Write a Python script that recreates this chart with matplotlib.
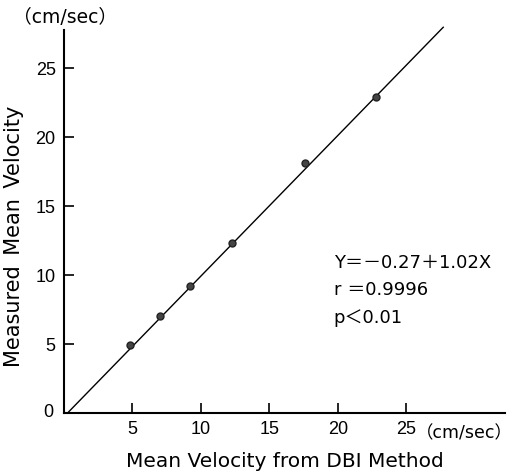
import matplotlib
matplotlib.use("Agg")
from matplotlib import pyplot as plt
import numpy as np

# data
dbi_velocity = [4.8, 7.0, 9.2, 12.3, 17.6, 22.8]        # x, cm/sec
measured_velocity = [4.9, 7.0, 9.2, 12.3, 18.1, 22.9]   # y, cm/sec
fit_intercept = -0.27
fit_slope = 1.02
fit_x_range = [0.26, 27.7]
tick_values = [5, 10, 15, 20, 25]
stats_lines = ["Y＝－0.27＋1.02X", "r ＝0.9996", "p＜0.01"]

plt.rcParams['font.family'] = ['DejaVu Sans', 'Noto Sans CJK JP']

fig = plt.figure(figsize=(5.12, 4.73), dpi=100)
ax = fig.add_axes([0.125, 0.127, 0.861, 0.81])

# regression line
fx = np.array(fit_x_range)
ax.plot(fx, fit_intercept + fit_slope * fx, color='black', linewidth=1.0, clip_on=False)
# measured points
ax.plot(dbi_velocity, measured_velocity, 'o', color='#444444',
        markersize=5, markeredgecolor='#222222')

ax.set_xlim(0, 32.2)
ax.set_ylim(0, 27.8)
ax.set_xticks(tick_values)
ax.set_yticks(tick_values)
ax.tick_params(direction='in', length=7, width=1.2, pad=6)
for lab in ax.get_xticklabels() + ax.get_yticklabels():
    lab.set_family(['Liberation Sans', 'DejaVu Sans'])
    lab.set_fontsize(13)
for side in ['top', 'right']:
    ax.spines[side].set_visible(False)
for side in ['left', 'bottom']:
    ax.spines[side].set_linewidth(1.5)

# the 0 at the origin sits left of the y axis
ax.text(-0.8, 0, "0", ha='right', va='center', fontsize=13,
        family=['Liberation Sans', 'DejaVu Sans'])

ax.set_xlabel("Mean Velocity from DBI Method", fontsize=14.5, labelpad=10)
ax.set_ylabel("Measured\u2002Mean\u2002Velocity", fontsize=15)
ax.yaxis.set_label_coords(-0.09, 0.46)

# units
ax.text(25.7, -1.45, "（cm/sec）", ha='left', va='center', fontsize=12.5)
fig.text(0.025, 0.962, "（cm/sec）", ha='left', va='center', fontsize=13.5)

for i, line in enumerate(stats_lines):
    ax.text(19.7, 10.9 - i * 2.0, line, ha='left', va='center', fontsize=13)

fig.savefig("out.png", dpi=100)
